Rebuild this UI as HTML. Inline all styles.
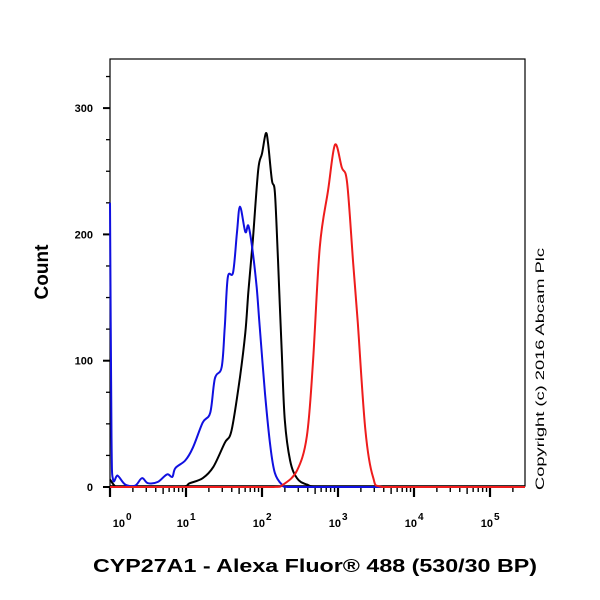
<!DOCTYPE html>
<html><head><meta charset="utf-8"><style>
body{margin:0;background:#fff;}
svg{display:block;font-family:"Liberation Sans",Arial,sans-serif;}
</style></head><body>
<svg id="chart" width="600" height="600" viewBox="0 0 600 600">
<rect x="110" y="59" width="415" height="427" fill="none" stroke="#000" stroke-width="1.2"/>
<g id="yaxis"></g>
<g id="xaxis"></g>
<g id="series"></g>
<text x="48" y="272" transform="rotate(-90 48 272)" text-anchor="middle" font-size="19" font-weight="bold">Count</text>
<text x="93" y="572" font-size="18" font-weight="bold" textLength="444" lengthAdjust="spacingAndGlyphs">CYP27A1 - Alexa Fluor® 488 (530/30 BP)</text>
<text x="544" y="490" transform="rotate(-90 544 490)" font-size="12" textLength="242" lengthAdjust="spacingAndGlyphs">Copyright (c) 2016 Abcam Plc</text>
</svg>
<script>
const yTicks=[0,100,200,300];
const xDecades=[0,1,2,3,4,5];
const blueLog=[0,0.02,0.04,0.1,0.2,0.33,0.42,0.5,0.63,0.75,0.82,0.86,0.99,1.09,1.22,1.32,1.38,1.47,1.51,1.55,1.62,1.67,1.71,1.78,1.82,1.87,1.93,1.97,2.04,2.11,2.17,2.26,2.35,5.46];
const blueCnt=[225,40,6,9,2,1,7,3,4,10,8,15,21,31,51,59,86,95,127,166,170,201,222,202,207,190,158,127,74,32,11,2,0,0];
const blackLog=[0,0.08,0.2,0.92,1.05,1.22,1.36,1.51,1.6,1.71,1.78,1.82,1.88,1.95,2.0,2.05,2.08,2.13,2.17,2.21,2.26,2.3,2.37,2.46,2.59,2.8,5.46];
const blackCnt=[6,0,0,0,3,7,16,35,45,87,122,154,196,251,264,280,272,243,233,180,106,53,21,7,2,0,0];
const redLog=[0,2.15,2.28,2.46,2.59,2.67,2.76,2.87,2.96,3.05,3.12,3.2,3.26,3.36,3.46,3.59,5.46];
const redCnt=[0,0,2,13,40,98,190,235,271,253,241,177,130,45,8,0,0];

const NS="http://www.w3.org/2000/svg";
const X0=110,DEC=76,Y0=487,PY=1.263;
const xs=l=>X0+l*DEC, ys=c=>Y0-c*PY;
function mk(tag,attrs,parent){const e=document.createElementNS(NS,tag);for(const k in attrs)e.setAttribute(k,attrs[k]);parent.appendChild(e);return e;}
const ya=document.getElementById('yaxis'),xa=document.getElementById('xaxis'),sg=document.getElementById('series');
for(let v=0;v<=325;v+=25){const major=v%100===0;
 const t=mk('line',{x1:major?103:106,x2:110,y1:ys(v),y2:ys(v),stroke:'#000','stroke-width':major?2:1.3},ya);
 
 }
yTicks.forEach(v=>{const t=mk('text',{x:93,y:ys(v)+4,'text-anchor':'end','font-size':11,'font-weight':'bold'},ya);t.textContent=v;
 
 });
mk('line',{x1:110,x2:525,y1:486,y2:486,stroke:'#000','stroke-width':1.5},xa);
xDecades.forEach(d=>{
 const t=mk('line',{x1:xs(d),x2:xs(d),y1:486,y2:497,stroke:'#000','stroke-width':2.2},xa);
 
 
 for(let m=2;m<=9;m++){const l=d+Math.log10(m);if(xs(l)>525)break;
  const mt=mk('line',{x1:xs(l),x2:xs(l),y1:486,y2:m===5?494:492,stroke:'#000','stroke-width':1.4},xa);
  
  }
 const cx=(d===0?xs(d)+14:xs(d)+2);
 const lb=mk('text',{x:cx+1,y:527,'text-anchor':'end','font-size':11,'font-weight':'bold'},xa);
 lb.textContent='10';
 
 
 const sp=mk('text',{x:cx+2,y:520,'font-size':10,'font-weight':'bold'},xa);
 sp.textContent=String(d);
 
 
});
function path(L,C,color,name){
 const P=L.map((l,i)=>[xs(l),ys(C[i])]);
 let d='M'+P[0][0].toFixed(1)+' '+P[0][1].toFixed(1);
 for(let i=0;i<P.length-1;i++){
  const p0=P[i-1]||P[i],p1=P[i],p2=P[i+1],p3=P[i+2]||P[i+1];
  let c1x=p1[0]+(p2[0]-p0[0])/6,c1y=p1[1]+(p2[1]-p0[1])/6;
  let c2x=p2[0]-(p3[0]-p1[0])/6,c2y=p2[1]-(p3[1]-p1[1])/6;
  c1x=Math.min(Math.max(c1x,p1[0]),p2[0]);c2x=Math.min(Math.max(c2x,p1[0]),p2[0]);
  c1y=Math.min(c1y,Y0);c2y=Math.min(c2y,Y0);
  d+=' C'+c1x.toFixed(1)+' '+c1y.toFixed(1)+' '+c2x.toFixed(1)+' '+c2y.toFixed(1)+' '+p2[0].toFixed(1)+' '+p2[1].toFixed(1);
 }
 const p=mk('path',{d:d,fill:'none',stroke:color,'stroke-width':2,'stroke-linejoin':'round'},sg);
 
 
}
path(blackLog,blackCnt,'#000','black-histogram');
path(blueLog,blueCnt,'#1010e0','blue-histogram');
path(redLog,redCnt,'#ee1c1c','red-histogram');
</script>
</body></html>
